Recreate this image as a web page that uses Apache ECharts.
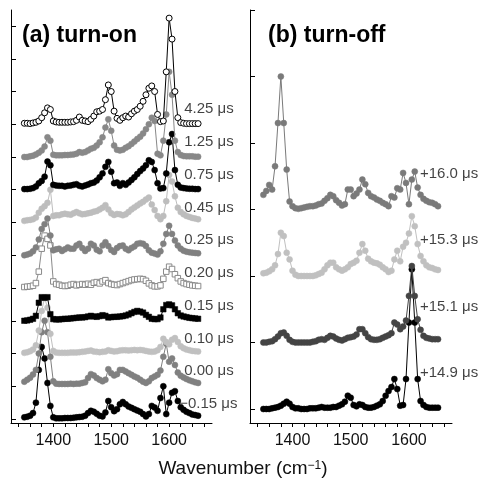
<!DOCTYPE html>
<html><head><meta charset="utf-8">
<script src="https://cdn.jsdelivr.net/npm/echarts@6/dist/echarts.min.js"></script>
<style>html,body{margin:0;padding:0;background:#fff}#c{width:480px;height:482px}</style>
</head><body><div id="c"></div>
<script>
// ---------- DATA ----------
const wavenumbers = [1350,1355,1360,1365,1370,1375,1380,1385,1390,1395,
  1400,1405,1410,1415,1420,1425,1430,1435,1440,1445,
  1450,1455,1460,1465,1470,1475,1480,1485,1490,1495,
  1500,1505,1510,1515,1520,1525,1530,1535,1540,1545,
  1550,1555,1560,1565,1570,1575,1580,1585,1590,1595,
  1600,1605,1610,1615,1620,1625,1630,1635,1640,1645,1650];
const xTickLabels = [1400, 1500, 1600];

// (a) turn-on, bottom to top
const onLabels = ['−0.15 μs','0.00 μs','0.10 μs','0.15 μs','0.20 μs','0.25 μs','0.45 μs','0.75 μs','1.25 μs','4.25 μs'];
const onOffsets = [0,1,2,3,4,5,6,7,8,9];
const on_m015 = [0.05,0.07,0.1,0.18,0.5,1.5,2.2,1.85,1.1,0.4,
  0.05,0.02,0.02,0.02,0.03,0.03,0.03,0.04,0.05,0.06,
  0.07,0.1,0.18,0.25,0.22,0.16,0.1,0.08,0.2,0.55,
  0.36,0.24,0.3,0.45,0.52,0.45,0.38,0.34,0.3,0.26,
  0.22,0.15,0.08,0.15,0.4,0.35,0.25,0.64,1.0,0.15,
  0.5,0.8,0.85,0.55,0.36,0.28,0.22,0.18,0.14,0.12,0.1];
const on_000 = [0.14,0.2,0.26,0.36,0.5,1.0,1.65,2.0,1.65,0.9,
  0.15,0.08,0.07,0.07,0.07,0.07,0.08,0.07,0.08,0.08,
  0.1,0.12,0.25,0.37,0.33,0.25,0.2,0.15,0.2,0.52,
  0.4,0.33,0.37,0.5,0.5,0.45,0.4,0.35,0.3,0.26,
  0.2,0.14,0.1,0.15,0.25,0.3,0.35,0.48,0.9,1.3,
  0.75,0.85,0.65,0.42,0.32,0.27,0.22,0.18,0.15,0.12,0.1];
const on_010 = [0.02,0.04,0.07,0.12,0.25,0.7,1.3,1.7,1.4,0.6,
  0.08,0.03,0.02,0.02,0.02,0.02,0.03,0.03,0.03,0.04,
  0.05,0.06,0.08,0.09,0.06,0.05,0.04,0.05,0.06,0.1,
  0.08,0.06,0.07,0.09,0.1,0.1,0.09,0.1,0.11,0.1,
  0.11,0.1,0.08,0.06,0.05,0.06,0.1,0.2,0.45,0.35,
  0.28,0.42,0.47,0.35,0.22,0.16,0.12,0.1,0.08,0.07,0.06];
const on_015 = [0.0,0.01,0.03,0.06,0.15,0.55,0.72,0.7,0.72,0.2,
  0.05,0.04,0.04,0.05,0.06,0.06,0.07,0.08,0.09,0.1,
  0.1,0.11,0.13,0.15,0.13,0.12,0.14,0.17,0.15,0.1,
  0.11,0.12,0.12,0.13,0.14,0.16,0.19,0.23,0.27,0.3,
  0.28,0.25,0.18,0.12,0.06,0.05,0.05,0.1,0.35,0.48,
  0.5,0.47,0.35,0.23,0.16,0.13,0.11,0.09,0.08,0.07,0.06];
const on_020 = [0.03,0.04,0.05,0.07,0.15,0.5,1.2,1.6,1.5,1.3,
  0.2,0.12,0.1,0.07,0.06,0.07,0.1,0.12,0.08,0.1,
  0.12,0.1,0.13,0.1,0.16,0.18,0.14,0.2,0.24,0.15,
  0.12,0.1,0.09,0.12,0.15,0.18,0.21,0.24,0.26,0.27,
  0.28,0.27,0.22,0.14,0.08,0.05,0.05,0.08,0.28,0.5,
  0.65,0.58,0.42,0.3,0.2,0.15,0.12,0.1,0.08,0.07,0.06];
const on_025 = [0.0,0.02,0.05,0.12,0.24,0.48,0.8,0.95,1.12,0.6,
  0.15,0.18,0.2,0.13,0.18,0.24,0.2,0.2,0.3,0.35,
  0.22,0.13,0.2,0.35,0.3,0.17,0.12,0.3,0.4,0.28,
  0.16,0.1,0.22,0.28,0.3,0.2,0.15,0.22,0.27,0.35,
  0.37,0.35,0.28,0.15,0.08,0.05,0.02,0.12,0.35,0.65,
  0.9,0.65,0.45,0.3,0.2,0.14,0.11,0.09,0.08,0.07,0.06];
const on_045 = [0.05,0.07,0.08,0.1,0.15,0.3,0.42,0.5,0.6,1.0,
  0.2,0.22,0.22,0.25,0.27,0.25,0.24,0.28,0.32,0.28,
  0.25,0.26,0.28,0.3,0.33,0.35,0.4,0.45,0.53,0.4,
  0.28,0.23,0.26,0.25,0.22,0.25,0.32,0.4,0.46,0.52,
  0.58,0.63,0.7,0.76,0.55,0.38,0.2,0.1,0.2,0.65,
  1.45,1.25,0.8,0.45,0.32,0.25,0.2,0.17,0.14,0.12,0.1];
const on_075 = [0.02,0.02,0.03,0.05,0.1,0.2,0.27,0.4,0.86,0.75,
  0.15,0.13,0.12,0.12,0.1,0.12,0.13,0.15,0.17,0.12,
  0.1,0.13,0.16,0.2,0.22,0.28,0.38,0.5,0.7,0.85,
  0.55,0.2,0.22,0.12,0.2,0.15,0.22,0.3,0.38,0.48,
  0.57,0.65,0.75,0.9,0.85,0.6,0.2,0.04,0.05,0.5,
  1.45,1.7,0.6,0.15,0.07,0.05,0.04,0.03,0.03,0.02,0.02];
const on_125 = [0.0,0.0,0.02,0.04,0.08,0.13,0.2,0.32,0.6,0.5,
  0.07,0.05,0.05,0.05,0.06,0.06,0.07,0.08,0.1,0.15,
  0.13,0.15,0.2,0.25,0.28,0.35,0.45,0.6,0.9,1.15,
  0.8,0.35,0.22,0.2,0.22,0.28,0.33,0.4,0.47,0.55,
  0.62,0.72,0.85,1.0,1.2,1.1,0.1,0.05,0.5,1.3,
  2.6,1.9,0.5,0.15,0.06,0.03,0.02,0.02,0.02,0.01,0.01];
const on_425 = [0.03,0.03,0.02,0.04,0.06,0.1,0.2,0.35,0.5,0.45,
  0.1,0.07,0.06,0.06,0.06,0.06,0.07,0.08,0.12,0.22,
  0.12,0.1,0.08,0.15,0.25,0.38,0.4,0.45,0.75,1.2,
  1.0,0.4,0.18,0.12,0.2,0.25,0.22,0.32,0.4,0.45,
  0.55,0.7,0.9,1.1,1.17,1.0,0.3,0.08,0.1,1.6,
  3.24,2.6,1.0,0.2,0.05,0.03,0.02,0.02,0.02,0.02,0.02];
const onSeries = [on_m015,on_000,on_010,on_015,on_020,on_025,on_045,on_075,on_125,on_425];

// (b) turn-off, bottom to top
const offLabels = ['+14.9 μs','+15.1 μs','+15.3 μs','+16.0 μs'];
const offOffsets = [0,1,2,3];
const off_149 = [0.0,0.0,0.0,0.01,0.02,0.03,0.05,0.08,0.11,0.08,
  0.03,0.01,0.01,0.0,0.0,0.0,0.01,0.01,0.01,0.02,
  0.03,0.02,0.02,0.02,0.03,0.03,0.05,0.07,0.11,0.2,
  0.17,0.06,0.04,0.07,0.06,0.03,0.02,0.02,0.03,0.05,
  0.07,0.12,0.2,0.27,0.33,0.45,0.3,0.05,0.06,0.45,
  1.3,2.1,1.3,0.45,0.12,0.06,0.03,0.02,0.02,0.02,0.02];
const off_151 = [0.0,0.0,0.01,0.02,0.05,0.09,0.14,0.15,0.1,0.04,
  0.01,0.0,0.0,0.0,0.0,0.0,0.0,0.01,0.02,0.04,
  0.05,0.04,0.07,0.1,0.09,0.06,0.04,0.03,0.05,0.07,
  0.08,0.09,0.12,0.2,0.2,0.14,0.08,0.05,0.04,0.04,
  0.05,0.07,0.09,0.11,0.14,0.3,0.27,0.2,0.24,0.33,
  0.7,1.15,0.7,0.35,0.19,0.1,0.07,0.06,0.05,0.05,0.05];
const off_153 = [0.04,0.05,0.07,0.1,0.16,0.33,0.65,0.6,0.35,0.25,
  0.08,0.02,0.0,0.0,0.0,0.0,0.0,0.0,0.01,0.03,
  0.05,0.1,0.16,0.2,0.2,0.13,0.1,0.08,0.1,0.13,
  0.18,0.2,0.23,0.35,0.48,0.38,0.26,0.22,0.2,0.19,
  0.17,0.13,0.1,0.06,0.08,0.25,0.38,0.22,0.44,0.5,
  0.64,0.9,0.75,0.48,0.3,0.22,0.16,0.13,0.12,0.1,0.09];
const off_160 = [0.22,0.28,0.37,0.3,0.65,1.3,2.0,1.3,0.6,0.12,
  0.05,0.02,0.01,0.02,0.03,0.04,0.05,0.05,0.06,0.08,
  0.09,0.13,0.17,0.22,0.2,0.14,0.1,0.06,0.08,0.3,
  0.3,0.2,0.24,0.3,0.45,0.38,0.25,0.2,0.18,0.15,
  0.13,0.1,0.08,0.05,0.2,0.18,0.32,0.3,0.55,0.4,
  0.08,0.45,0.57,0.33,0.22,0.16,0.13,0.11,0.1,0.08,0.05];
const offSeries = [off_149,off_151,off_153,off_160];

// ---------- STYLE ----------
const FONT = '"Liberation Sans", Arial, Helvetica, sans-serif';
const onStyles = [
  {c:'#000000', f:'#000000', s:'circle'},
  {c:'#808080', f:'#808080', s:'circle'},
  {c:'#c0c0c0', f:'#c0c0c0', s:'circle'},
  {c:'#000000', f:'#000000', s:'rect'},
  {c:'#8a8a8a', f:'#ffffff', s:'rect'},
  {c:'#808080', f:'#808080', s:'circle'},
  {c:'#bdbdbd', f:'#bdbdbd', s:'circle'},
  {c:'#000000', f:'#000000', s:'circle'},
  {c:'#888888', f:'#888888', s:'circle'},
  {c:'#000000', f:'#ffffff', s:'circle'}
];
const offStyles = [
  {c:'#000000', f:'#000000', s:'circle'},
  {c:'#444444', f:'#444444', s:'circle'},
  {c:'#c0c0c0', f:'#c0c0c0', s:'circle'},
  {c:'#7a7a7a', f:'#7a7a7a', s:'circle'}
];

const X_MIN = 1327, X_MAX = 1674;
const L = {left:11, width:201}, R = {left:250, width:202};
const TOP = 10, H = 413;
function px(panel, w){ return panel.left + (w - X_MIN) * panel.width / (X_MAX - X_MIN); }

const grids = [
  {left:L.left, top:TOP, width:L.width, height:H},
  {left:px(L,1340), top:TOP, width:px(L,1660)-px(L,1340), height:H},
  {left:L.left, top:26, width:L.width, height:393},
  {left:R.left, top:TOP, width:R.width, height:H},
  {left:px(R,1340), top:TOP, width:px(R,1660)-px(R,1340), height:H},
  {left:R.left, top:TOP, width:R.width, height:399}
].map(g => Object.assign({outerBoundsMode:'none', containLabel:false}, g));

const blackLine = {show:true, onZero:false, lineStyle:{color:'#000', width:1}};
function mainX(gi){ return {gridIndex:gi, type:'value', min:X_MIN, max:X_MAX, axisLine:blackLine, axisTick:{show:false}, axisLabel:{show:false}, splitLine:{show:false}}; }
function tickX(gi){ return {gridIndex:gi, type:'value', min:1340, max:1660, interval:20,
  axisLine:{show:false, onZero:false}, axisTick:{show:true, length:4, lineStyle:{color:'#000', width:1}},
  axisLabel:{show:true, margin:10, fontSize:16, color:'#111', fontFamily:FONT,
    formatter: v => xTickLabels.indexOf(v) >= 0 ? String(v) : ''},
  splitLine:{show:false}}; }
function hidX(gi){ return {gridIndex:gi, type:'value', show:false, min:0, max:1, axisLine:{onZero:false}}; }
function hidY(gi){ return {gridIndex:gi, type:'value', show:false, min:0, max:1}; }
function mainY(gi, mn, mx){ return {gridIndex:gi, type:'value', min:mn, max:mx, axisLine:blackLine, axisTick:{show:false}, axisLabel:{show:false}, splitLine:{show:false}}; }
function tickY(gi, mx){ return {gridIndex:gi, type:'value', min:0, max:mx, interval:1, axisLine:{show:false},
  axisTick:{show:true, inside:true, length:5, lineStyle:{color:'#000', width:1}}, axisLabel:{show:false}, splitLine:{show:false}}; }

const xAxis = [mainX(0), tickX(1), hidX(2), mainX(3), tickX(4), hidX(5)];
const yAxis = [mainY(0, -4/32.75, 409/32.75), hidY(1), tickY(2, 12), mainY(3, -14/66.5, 6.0), hidY(4), tickY(5, 6)];

const series = [];
function addSpectra(list, offsets, styles, axisIdx){
  list.forEach((vals, k) => {
    const st = styles[k];
    series.push({
      type:'line', xAxisIndex:axisIdx, yAxisIndex:axisIdx, z:2+k,
      data: wavenumbers.map((w, i) => [w, offsets[k] + vals[i]]),
      symbol: st.s, symbolSize: st.s === 'rect' ? 5.5 : 6, showSymbol:true,
      lineStyle:{color:st.c, width:1},
      itemStyle:{color:st.f, borderColor:st.c, borderWidth: st.f === '#ffffff' ? 1 : 0.5},
      emphasis:{disabled:true}, silent:true
    });
  });
}
addSpectra(onSeries, onOffsets, onStyles, 0);
addSpectra(offSeries, offOffsets, offStyles, 3);

function addLabels(labels, offsets, axisIdx, xw, dy){
  series.push({
    type:'scatter', xAxisIndex:axisIdx, yAxisIndex:axisIdx, z:30, symbolSize:0, silent:true,
    itemStyle:{color:'transparent'},
    data: labels.map((t, k) => ({name:t, value:[xw, offsets[k] + dy],
      label: t.charAt(0) === '−' ? {offset:[-5, 0]} : {}})),
    label:{show:true, position:'right', distance:0, formatter:'{b}', fontSize:15, color:'#111', fontFamily:FONT}
  });
}
addLabels(onLabels, onOffsets, 0, 1626, 0.46);
addLabels(offLabels, offOffsets, 3, 1619, 0.54);

const chart = echarts.init(document.getElementById('c'), null, {renderer:'canvas'});
chart.setOption({
  animation:false,
  backgroundColor:'#ffffff',
  textStyle:{fontFamily:FONT},
  grid:grids, xAxis:xAxis, yAxis:yAxis, series:series,
  graphic:[
    {type:'text', x:22, y:36, style:{text:'(a) turn-on', fontSize:23, fontWeight:'bold', fontFamily:FONT, fill:'#000', verticalAlign:'middle'}},
    {type:'text', x:268, y:36, style:{text:'(b) turn-off', fontSize:23, fontWeight:'bold', fontFamily:FONT, fill:'#000', verticalAlign:'middle'}},
    {type:'text', x:243, y:469, style:{text:'Wavenumber (cm{sup|−1})', fontSize:19, fontFamily:FONT, fill:'#111',
      align:'center', verticalAlign:'middle', rich:{sup:{fontSize:12, verticalAlign:'top', fontFamily:FONT, fill:'#111'}}}}
  ]
});
</script></body></html>
